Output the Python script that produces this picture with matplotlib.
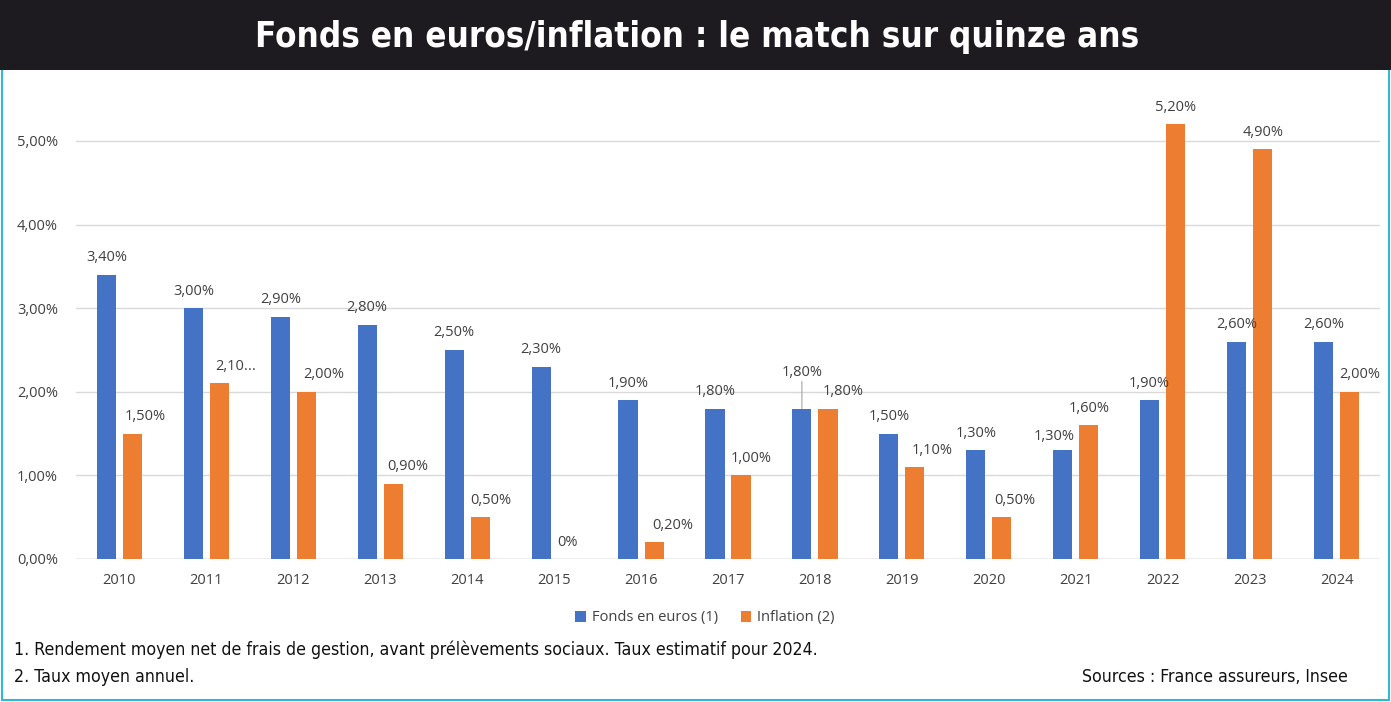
import matplotlib
matplotlib.use("Agg")
import matplotlib.pyplot as plt
from matplotlib import font_manager
from matplotlib.patches import Rectangle
from matplotlib.lines import Line2D

# data
years = [str(y) for y in range(2010, 2025)]
fonds = [3.4, 3.0, 2.9, 2.8, 2.5, 2.3, 1.9, 1.8, 1.8, 1.5, 1.3, 1.3, 1.9, 2.6, 2.6]
inflation = [1.5, 2.1, 2.0, 0.9, 0.5, 0.0, 0.2, 1.0, 1.8, 1.1, 0.5, 1.6, 5.2, 4.9, 2.0]
fonds_labels = ["3,40%", "3,00%", "2,90%", "2,80%", "2,50%", "2,30%", "1,90%", "1,80%",
                "1,80%", "1,50%", "1,30%", "1,30%", "1,90%", "2,60%", "2,60%"]
infl_labels = ["1,50%", "2,10...", "2,00%", "0,90%", "0,50%", "0%", "0,20%", "1,00%",
               "1,80%", "1,10%", "0,50%", "1,60%", "5,20%", "4,90%", "2,00%"]
yticks = [0, 1, 2, 3, 4, 5]
ytick_labels = ["0,00%", "1,00%", "2,00%", "3,00%", "4,00%", "5,00%"]

# label nudges in pixels (dx, dy)
fonds_nudge = [(0, 0)] * 8 + [(0, 19)] + [(0, 0)] * 2 + [(-9, -3)] + [(0, 0)] * 3
infl_nudge = [(13, 0), (16, 0), (17, 0), (14, 0), (11, 0), (0, 0), (19, 0), (10, 0),
              (15, 0), (17, 0), (13, 0), (0, 0), (0, 0), (0, 0), (10, 0)]

BLUE = "#4472c4"
ORANGE = "#ed7d31"
TXT = "#404040"
CYAN = "#2fbad3"
LBL = ["Open Sans", "DejaVu Sans"]

# pick a narrow face for title and footnotes
fonts = font_manager.fontManager.ttflist
cond = [f for f in fonts if f.name == "DejaVu Sans" and f.stretch == "condensed"]
if cond:
    NARROW = dict(family="DejaVu Sans", stretch="condensed")
else:
    NARROW = dict(family="Roboto")

W, H = 1391, 702
fig = plt.figure(figsize=(W / 100, H / 100), dpi=100)
fig.patch.set_facecolor("white")

# title bar
fig.patches.append(Rectangle((0, 1 - 70 / H), 1, 70 / H, transform=fig.transFigure,
                             facecolor="#1d1b1f", edgecolor="none", zorder=0))
title = fig.text(0.5015, 1 - 37 / H, "Fonds en euros/inflation : le match sur quinze ans",
                 color="white", fontsize=27, fontweight="bold",
                 ha="center", va="center", **NARROW)

# cyan frame
fig.add_artist(Line2D([1.5 / W, 1.5 / W], [1 - 71 / H, 1 - 700 / H], color=CYAN, lw=1.5,
                      transform=fig.transFigure))
fig.add_artist(Line2D([1388.5 / W, 1388.5 / W], [1 - 71 / H, 1 - 700 / H], color=CYAN, lw=1.5,
                      transform=fig.transFigure))
fig.add_artist(Line2D([1.5 / W, 1388.5 / W], [1 - 700 / H, 1 - 700 / H], color=CYAN, lw=1.5,
                      transform=fig.transFigure))

ax = fig.add_axes([76 / W, 1 - 559 / H, (1380 - 76) / W, (559 - 90) / H])
x = list(range(len(years)))
bw = 0.22
off = 0.15
ax.bar([i - off for i in x], fonds, width=bw, color=BLUE, label="Fonds en euros (1)", zorder=3)
ax.bar([i + off for i in x], inflation, width=bw, color=ORANGE, label="Inflation (2)", zorder=3)

ax.set_xlim(-0.5, len(years) - 0.5)
ax.set_ylim(0, 5.61)
ax.set_yticks(yticks)
ax.set_yticklabels(ytick_labels)
ax.set_xticks(x)
ax.set_xticklabels(years)
ax.tick_params(length=0, labelcolor=TXT, labelsize=10.5)
ax.tick_params(axis="y", pad=13)
ax.tick_params(axis="x", pad=10)
for lab in ax.get_xticklabels() + ax.get_yticklabels():
    lab.set_family(LBL)
ax.grid(axis="y", color="#d9d9d9", lw=1, zorder=0)
for s in ax.spines.values():
    s.set_visible(False)
ax.axhline(0, color="#c8c8c8", lw=1, zorder=2)

pt = 0.72
for i in x:
    dx, dy = fonds_nudge[i]
    ax.annotate(fonds_labels[i], (i - off, fonds[i]), xytext=(dx * pt, (17 + dy) * pt),
                textcoords="offset points", ha="center", va="center", fontsize=10.5,
                color=TXT, family=LBL)
    if dy > 5:
        ax.annotate("", (i - off, fonds[i]), xytext=(0, (17 + dy - 9) * pt),
                    textcoords="offset points",
                    arrowprops=dict(arrowstyle="-", color="#a6a6a6", lw=0.8,
                                    shrinkA=0, shrinkB=0))
    dx, dy = infl_nudge[i]
    ax.annotate(infl_labels[i], (i + off, inflation[i]), xytext=(dx * pt, (17 + dy) * pt),
                textcoords="offset points", ha="center", va="center", fontsize=10.5,
                color=TXT, family=LBL)

leg = ax.legend(loc="center", bbox_to_anchor=(705 / W, 1 - 618 / H), bbox_transform=fig.transFigure,
                ncol=2, frameon=False, handlelength=0.7, handleheight=0.7, handletextpad=0.4,
                columnspacing=1.6, prop={"family": LBL, "size": 10.5})
for t in leg.get_texts():
    t.set_color(TXT)

# footnotes
note1 = fig.text(14 / W, 1 - 650 / H,
                 "1. Rendement moyen net de frais de gestion, avant prélèvements sociaux. Taux estimatif pour 2024.",
                 fontsize=13.5, color="#111111", ha="left", va="center", **NARROW)
note2 = fig.text(14 / W, 1 - 677 / H, "2. Taux moyen annuel.",
                 fontsize=13.5, color="#111111", ha="left", va="center", **NARROW)
src = fig.text(1348 / W, 1 - 677 / H, "Sources : France assureurs, Insee",
               fontsize=13.5, color="#111111", ha="right", va="center", **NARROW)

# fit widths of the narrow texts to the reference
renderer = fig.canvas.get_renderer()
def fit(t, target):
    w = t.get_window_extent(renderer).width
    t.set_fontsize(t.get_fontsize() * target / w)

fit(title, 883)
fit(note1, 800)
fs = note1.get_fontsize()
note2.set_fontsize(fs)
src.set_fontsize(fs)

fig.savefig("out.png", dpi=100)
